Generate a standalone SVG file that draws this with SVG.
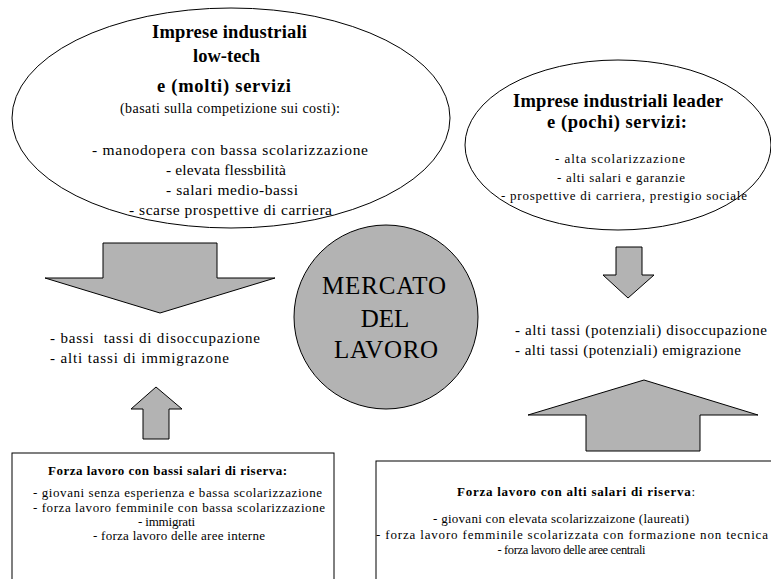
<svg xmlns="http://www.w3.org/2000/svg" width="771" height="579" viewBox="0 0 771 579">
<style>
.sh{fill:#fff;stroke:#000;stroke-width:1}
.ar{fill:#b3b3b3;stroke:#000;stroke-width:1}
</style>
<rect width="771" height="579" fill="#fff"/>
<g id="low-tech">
<ellipse class="sh" cx="231" cy="118" rx="219" ry="110"/>
<text style="font-family:'Liberation Serif',serif !important;font-weight:bold" font-family="Liberation Serif" text-anchor="middle" x="229.5" y="38" font-size="18.5" textLength="155" lengthAdjust="spacing">Imprese industriali</text>
<text style="font-family:'Liberation Serif',serif !important;font-weight:bold" font-family="Liberation Serif" text-anchor="middle" x="226.5" y="62" font-size="18.5" textLength="67" lengthAdjust="spacing">low-tech</text>
<text style="font-family:'Liberation Serif',serif !important;font-weight:bold" font-family="Liberation Serif" text-anchor="middle" x="224" y="92" font-size="18.5" textLength="134" lengthAdjust="spacing">e (molti) servizi</text>
<text style="font-family:'Liberation Serif',serif !important" font-family="Liberation Serif" text-anchor="middle" x="230" y="113" font-size="14" textLength="220" lengthAdjust="spacing">(basati sulla competizione sui costi):</text>
<text style="font-family:'Liberation Serif',serif !important" font-family="Liberation Serif" text-anchor="middle" x="230" y="155" font-size="15.5" textLength="276" lengthAdjust="spacing">- manodopera con bassa scolarizzazione</text>
<text style="font-family:'Liberation Serif',serif !important" font-family="Liberation Serif" text-anchor="middle" x="226" y="175" font-size="15.5" textLength="120" lengthAdjust="spacing">- elevata flessbilità</text>
<text style="font-family:'Liberation Serif',serif !important" font-family="Liberation Serif" text-anchor="middle" x="232" y="195" font-size="15.5" textLength="132" lengthAdjust="spacing">- salari medio-bassi</text>
<text style="font-family:'Liberation Serif',serif !important" font-family="Liberation Serif" text-anchor="middle" x="230.5" y="215" font-size="15.5" textLength="203" lengthAdjust="spacing">- scarse prospettive di carriera</text>
</g>
<g id="leader">
<ellipse class="sh" cx="618" cy="145" rx="153" ry="85"/>
<text style="font-family:'Liberation Serif',serif !important;font-weight:bold" font-family="Liberation Serif" text-anchor="middle" x="618" y="107" font-size="18.5" textLength="210" lengthAdjust="spacing">Imprese industriali leader</text>
<text style="font-family:'Liberation Serif',serif !important;font-weight:bold" font-family="Liberation Serif" text-anchor="middle" x="617" y="128" font-size="18.5" textLength="140" lengthAdjust="spacing">e (pochi) servizi:</text>
<text style="font-family:'Liberation Serif',serif !important" font-family="Liberation Serif" text-anchor="middle" x="620" y="163" font-size="13" textLength="130" lengthAdjust="spacing">- alta scolarizzazione</text>
<text style="font-family:'Liberation Serif',serif !important" font-family="Liberation Serif" text-anchor="middle" x="621" y="182" font-size="13" textLength="128" lengthAdjust="spacing">- alti salari e garanzie</text>
<text style="font-family:'Liberation Serif',serif !important" font-family="Liberation Serif" text-anchor="middle" x="624" y="200" font-size="13" textLength="246" lengthAdjust="spacing">- prospettive di carriera, prestigio sociale</text>
</g>
<g id="mercato">
<circle cx="386" cy="317" r="92" fill="#b3b3b3" stroke="#000" stroke-width="1"/>
<text style="font-family:'Liberation Serif',serif !important" font-family="Liberation Serif" text-anchor="middle" x="384" y="294" font-size="25" textLength="124" lengthAdjust="spacing">MERCATO</text>
<text style="font-family:'Liberation Serif',serif !important" font-family="Liberation Serif" text-anchor="middle" x="385" y="327" font-size="25">DEL</text>
<text style="font-family:'Liberation Serif',serif !important" font-family="Liberation Serif" text-anchor="middle" x="386" y="358" font-size="25" textLength="104" lengthAdjust="spacing">LAVORO</text>
</g>
<g id="effetti-sx">
<text style="font-family:'Liberation Serif',serif !important" font-family="Liberation Serif" x="50" y="343" font-size="15" textLength="210" lengthAdjust="spacing" xml:space="preserve">- bassi  tassi di disoccupazione</text>
<text style="font-family:'Liberation Serif',serif !important" font-family="Liberation Serif" x="50" y="363" font-size="15" textLength="179" lengthAdjust="spacing">- alti tassi di immigrazone</text>
</g>
<g id="effetti-dx">
<text style="font-family:'Liberation Serif',serif !important" font-family="Liberation Serif" x="515" y="335" font-size="15" textLength="252" lengthAdjust="spacing">- alti tassi (potenziali) disoccupazione</text>
<text style="font-family:'Liberation Serif',serif !important" font-family="Liberation Serif" x="515" y="355" font-size="15" textLength="226" lengthAdjust="spacing">- alti tassi (potenziali) emigrazione</text>
</g>
<g id="forza-bassi">
<rect class="sh" x="12" y="453" width="322" height="140"/>
<text style="font-family:'Liberation Serif',serif !important;font-weight:bold" font-family="Liberation Serif" text-anchor="middle" x="167.5" y="475" font-size="13" textLength="239" lengthAdjust="spacing">Forza lavoro con bassi salari di riserva:</text>
<text style="font-family:'Liberation Serif',serif !important" font-family="Liberation Serif" text-anchor="middle" x="177.5" y="497" font-size="13" textLength="289" lengthAdjust="spacing">- giovani senza esperienza e bassa scolarizzazione</text>
<text style="font-family:'Liberation Serif',serif !important" font-family="Liberation Serif" text-anchor="middle" x="179" y="512" font-size="13" textLength="292" lengthAdjust="spacing">- forza lavoro femminile con bassa scolarizzazione</text>
<text style="font-family:'Liberation Serif',serif !important" font-family="Liberation Serif" text-anchor="middle" x="166.5" y="526" font-size="13" textLength="57" lengthAdjust="spacing">- immigrati</text>
<text style="font-family:'Liberation Serif',serif !important" font-family="Liberation Serif" text-anchor="middle" x="179" y="540" font-size="13" textLength="172" lengthAdjust="spacing">- forza lavoro delle aree interne</text>
</g>
<g id="forza-alti">
<rect class="sh" x="376" y="461" width="420" height="140"/>
<text style="font-family:'Liberation Serif',serif !important" font-family="Liberation Serif" text-anchor="middle" x="576" y="496" font-size="13" textLength="238" lengthAdjust="spacing"><tspan style="font-weight:bold">Forza lavoro con alti salari di riserva</tspan>:</text>
<text style="font-family:'Liberation Serif',serif !important" font-family="Liberation Serif" text-anchor="middle" x="561" y="523" font-size="13" textLength="256" lengthAdjust="spacing">- giovani con elevata scolarizzaizone (laureati)</text>
<text style="font-family:'Liberation Serif',serif !important" font-family="Liberation Serif" text-anchor="middle" x="572" y="539" font-size="13" textLength="392" lengthAdjust="spacing">- forza lavoro femminile scolarizzata con formazione non tecnica</text>
<text style="font-family:'Liberation Serif',serif !important" font-family="Liberation Serif" text-anchor="middle" x="571.5" y="554" font-size="12.5" textLength="148" lengthAdjust="spacing">- forza lavoro delle aree centrali</text>
</g>
<g id="connectors">
<polygon class="ar" points="103,243 217,243 217,278 275,278 160,313 45,278 103,278"/>
<polygon class="ar" points="156,387 182,409 169,409 169,439 143,439 143,409 131,409"/>
<polygon class="ar" points="616,247 642,247 642,275 654,275 628,298 603,275 616,275"/>
<polygon class="ar" points="644,380 758,415 700,415 700,451 586,451 586,415 528,415"/>
</g>
</svg>
